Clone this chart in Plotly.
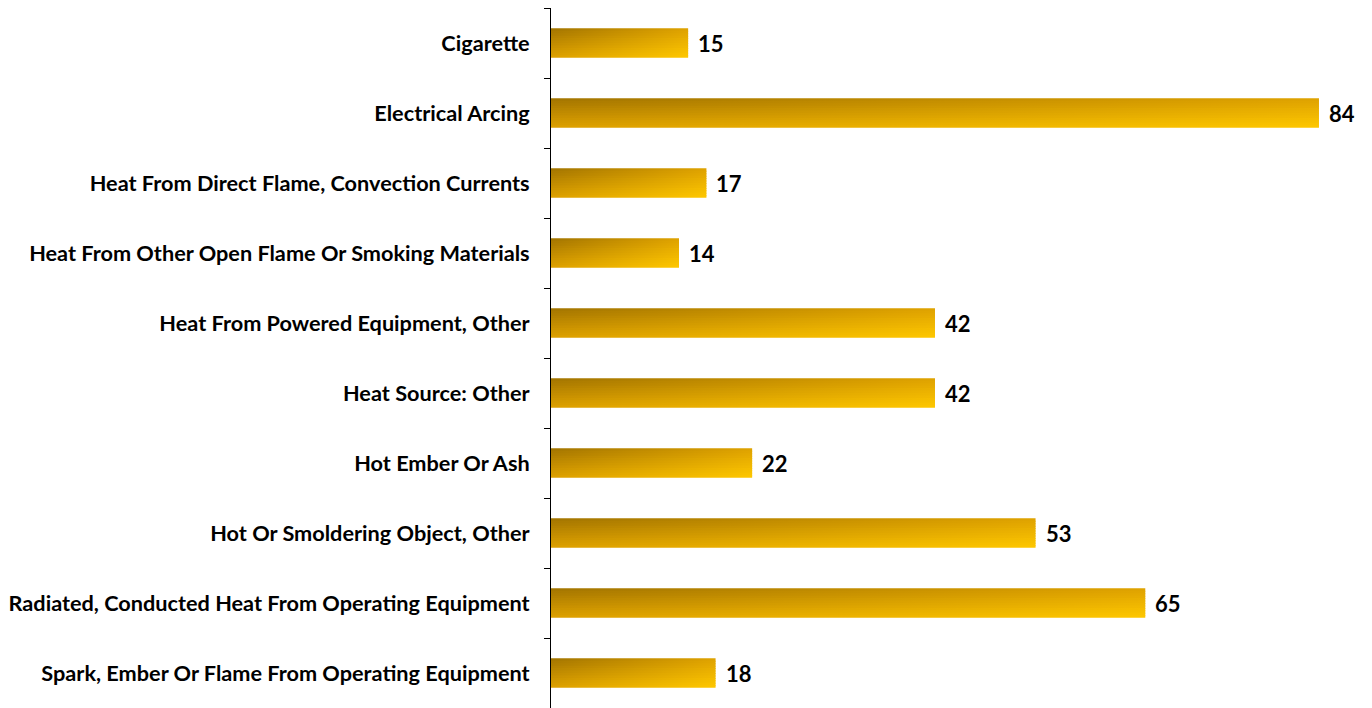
import plotly.graph_objects as go

# Ignition heat source categories and counts
categories = [
    "Cigarette",
    "Electrical Arcing",
    "Heat From Direct Flame, Convection Currents",
    "Heat From Other Open Flame Or Smoking Materials",
    "Heat From Powered Equipment, Other",
    "Heat Source: Other",
    "Hot Ember Or Ash",
    "Hot Or Smoldering Object, Other",
    "Radiated, Conducted Heat From Operating Equipment",
    "Spark, Ember Or Flame From Operating Equipment",
]
counts = [15, 84, 17, 14, 42, 42, 22, 53, 65, 18]

FONT = "Lato"
HALF = 0.21          # half bar thickness in category units
N_STRIPS = 12        # horizontal strips per bar for the diagonal gradient

# diagonal gold gradient stops (dark top-left -> bright bottom-right)
STOPS = [(0.0, (162, 116, 0)), (0.5, (222, 161, 0)), (1.0, (254, 200, 0))]


def gold(t):
    t = max(0.0, min(1.0, t))
    for (t0, c0), (t1, c1) in zip(STOPS[:-1], STOPS[1:]):
        if t <= t1:
            f = (t - t0) / (t1 - t0)
            r, g, b = (round(a + (b_ - a) * f) for a, b_ in zip(c0, c1))
            return f"rgb({r},{g},{b})"
    return "rgb(%d,%d,%d)" % STOPS[-1][1]


fig = go.Figure()

for i, (cat, val) in enumerate(zip(categories, counts)):
    top = i - HALF
    step = 2 * HALF / N_STRIPS
    for k in range(N_STRIPS):
        v = (k + 0.5) / N_STRIPS
        y0 = top + k * step
        y1 = min(top + (k + 1) * step + step * 0.4, i + HALF)
        fig.add_trace(go.Scatter(
            x=[0, val, val, 0, 0],
            y=[y0, y0, y1, y1, y0],
            mode="lines",
            line=dict(width=0),
            fill="toself",
            fillgradient=dict(
                type="horizontal",
                start=0,
                stop=val,
                colorscale=[[0, gold(v / 2)], [1, gold((1 + v) / 2)]],
            ),
            hoverinfo="skip",
            showlegend=False,
        ))
    fig.add_annotation(
        x=val, y=i, text=f"<b>{val}</b>", showarrow=False,
        xanchor="left", yanchor="middle", xshift=8,
        font=dict(family=FONT, size=22, color="#000000"),
    )

fig.update_layout(
    width=1372, height=708,
    margin=dict(l=551, r=0, t=8, b=0),
    paper_bgcolor="white", plot_bgcolor="white",
    showlegend=False,
    xaxis=dict(range=[0, 89.8], visible=False, fixedrange=True),
    yaxis=dict(
        range=[len(categories) - 0.5, -0.5],
        tickmode="array",
        tickvals=list(range(len(categories))),
        ticktext=[f"<b>{c}</b>" for c in categories],
        ticks="",
        ticklabelstandoff=16,
        showgrid=False, zeroline=False,
        showline=True, linecolor="#000000", linewidth=1,
        tickfont=dict(family=FONT, size=21.7, color="#000000"),
        minor=dict(
            tickmode="array",
            tickvals=[i - 0.5 for i in range(len(categories) + 1)],
            ticks="outside", ticklen=6, tickcolor="#000000", tickwidth=1,
            showgrid=False,
        ),
    ),
)

fig.write_html("out.html")
